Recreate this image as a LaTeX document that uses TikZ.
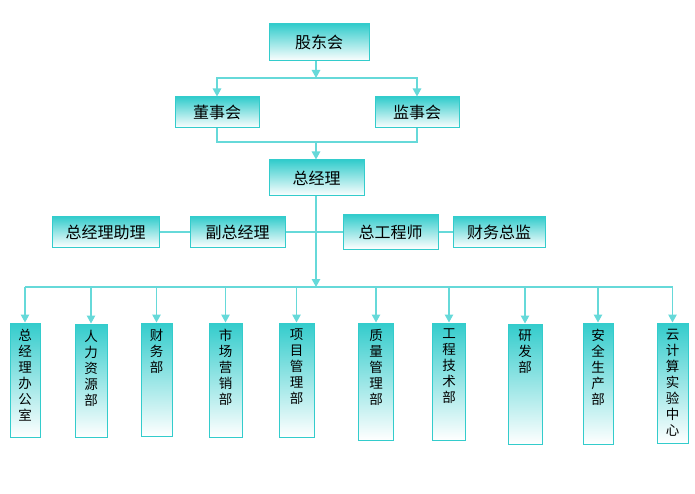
\documentclass[tikz,border=0pt]{standalone}
\usepackage{fontspec}
\newfontfamily\cjk{Noto Sans CJK SC}
\usepackage{tikz}
\usetikzlibrary{arrows.meta}
\definecolor{boxteal}{RGB}{51,204,204}
\definecolor{lineteal}{RGB}{102,217,217}
\begin{document}
\begin{tikzpicture}[x=1pt,y=-1pt,vtext/.style={anchor=north,align=center,yshift=-3pt,font=\cjk\fontsize{13.5}{16}\selectfont}]
    \tikzstyle{hbox} = [rectangle, draw=boxteal, line width=1pt, top color=boxteal, middle color=boxteal!30!white, bottom color=white, font=\cjk\fontsize{16}{18}\selectfont, inner sep=0pt]
    \tikzstyle{vbox} = [rectangle, draw=boxteal, line width=1pt, top color=boxteal, middle color=boxteal!40!white, bottom color=white, inner sep=0pt]
    \tikzstyle{link} = [draw=lineteal, line width=1.2pt]
    \tikzstyle{linkarrow} = [link, -{Triangle[width=8.5pt,length=8pt]}]
    \useasboundingbox (0,0) rectangle (695,494);
        %%% top %%%
        \node[hbox,minimum width=100pt,minimum height=37pt] (gudong) at (319,42.5) {股东会};
        \node[hbox,minimum width=84pt,minimum height=31pt] (dongshi) at (217,112.5) {董事会};
        \node[hbox,minimum width=84pt,minimum height=31pt] (jianshi) at (417,112.5) {监事会};
        \node[hbox,minimum width=95pt,minimum height=36pt] (zongjl) at (316.5,178) {总经理};
        \coordinate (split) at (316,78);
        \coordinate (merge) at (316,142);
        \draw[linkarrow] (gudong.south -| split) -- (split);
        \draw[linkarrow] (split) -| (dongshi.north);
        \draw[linkarrow] (split) -| (jianshi.north);
        \draw[link] (dongshi.south) |- (merge);
        \draw[link] (jianshi.south) |- (merge);
        \draw[linkarrow] (merge) -- (zongjl.north -| merge);
        %%% deputies %%%
        \node[hbox,minimum width=107pt,minimum height=31pt] (zhuli) at (105.5,232) {总经理助理};
        \node[hbox,minimum width=95pt,minimum height=31pt] (fuzong) at (237.5,232) {副总经理};
        \node[hbox,minimum width=95pt,minimum height=34pt] (zonggong) at (390.5,232) {总工程师};
        \node[hbox,minimum width=92pt,minimum height=31pt] (caiwuzj) at (499,232) {财务总监};
        \draw[link] (zhuli) -- (fuzong);
        \draw[link] (fuzong) -- (zonggong);
        \draw[link] (zonggong) -- (caiwuzj);
        %%% departments %%%
        \coordinate (bus) at (316,287);
        \draw[linkarrow] (zongjl.south -| bus) -- (bus);
        \node[vbox,minimum width=30pt,minimum height=114pt,label={[vtext]north:总\\经\\理\\办\\公\\室}] (bangong) at (25,380) {};
        \node[vbox,minimum width=32pt,minimum height=113pt,label={[vtext]north:人\\力\\资\\源\\部}] (renli) at (91,380.5) {};
        \node[vbox,minimum width=31pt,minimum height=113pt,label={[vtext]north:财\\务\\部}] (caiwu) at (156.5,379.5) {};
        \node[vbox,minimum width=33pt,minimum height=114pt,label={[vtext]north:市\\场\\营\\销\\部}] (shichang) at (225.5,380) {};
        \node[vbox,minimum width=35pt,minimum height=114pt,label={[vtext]north:项\\目\\管\\理\\部}] (xiangmu) at (296.5,380) {};
        \node[vbox,minimum width=35pt,minimum height=117pt,label={[vtext]north:质\\量\\管\\理\\部}] (zhiliang) at (376,381.5) {};
        \node[vbox,minimum width=33pt,minimum height=117pt,label={[vtext]north:工\\程\\技\\术\\部}] (gongcheng) at (449,381.5) {};
        \node[vbox,minimum width=34pt,minimum height=120pt,label={[vtext]north:研\\发\\部}] (yanfa) at (525,384) {};
        \node[vbox,minimum width=30pt,minimum height=121pt,label={[vtext]north:安\\全\\生\\产\\部}] (anquan) at (598,383.5) {};
        \node[vbox,minimum width=31pt,minimum height=120pt,label={[vtext]north:云\\计\\算\\实\\验\\中\\心}] (yunjs) at (672.5,383) {};
        \draw[link] (bangong.north |- bus) -- (yunjs.north |- bus);
        \draw[linkarrow] (bangong.north |- bus) -- (bangong.north);
        \draw[linkarrow] (renli.north |- bus) -- (renli.north);
        \draw[linkarrow] (caiwu.north |- bus) -- (caiwu.north);
        \draw[linkarrow] (shichang.north |- bus) -- (shichang.north);
        \draw[linkarrow] (xiangmu.north |- bus) -- (xiangmu.north);
        \draw[linkarrow] (zhiliang.north |- bus) -- (zhiliang.north);
        \draw[linkarrow] (gongcheng.north |- bus) -- (gongcheng.north);
        \draw[linkarrow] (yanfa.north |- bus) -- (yanfa.north);
        \draw[linkarrow] (anquan.north |- bus) -- (anquan.north);
        \draw[linkarrow] (yunjs.north |- bus) -- (yunjs.north);
    \end{tikzpicture}
\end{document}
